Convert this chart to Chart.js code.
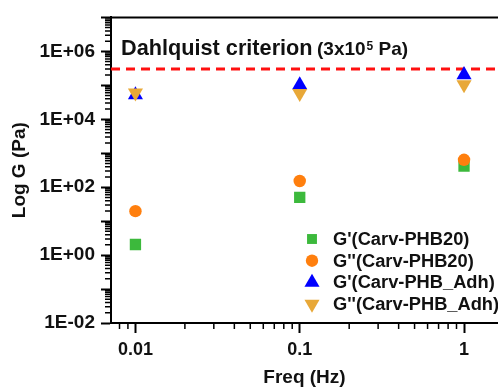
<!DOCTYPE html>
<html>
<head>
<meta charset="utf-8">
<script src="https://cdn.jsdelivr.net/npm/chart.js@4.4.1/dist/chart.umd.min.js"></script>
<style>
  html, body { margin: 0; padding: 0; background: #fff; }
  #wrap { width: 498px; height: 388px; }
</style>
</head>
<body>
<div id="wrap"><canvas id="myChart" width="498" height="388"></canvas></div>
<script>
// data
var freq = [0.01, 0.1, 1];
var gPrimePHB20 = [2.05, 50, 420];
var gDoublePHB20 = [19.7, 152, 640];
var gPrimeAdh = [52000, 102000, 204000];
var gDoubleAdh = [60000, 58000, 105000];
var seriesLabels = ["G'(Carv-PHB20)", "G''(Carv-PHB20)", "G'(Carv-PHB_Adh)", "G''(Carv-PHB_Adh)"];
var criterion = 3e5;

var xTicks = [0.01, 0.1, 1];
var xTickLabels = ['0.01', '0.1', '1'];
var yTicks = [1e-2, 1e-1, 1e0, 1e1, 1e2, 1e3, 1e4, 1e5, 1e6, 1e7];
var yTickLabels = ['1E-02', '', '1E+00', '', '1E+02', '', '1E+04', '', '1E+06', ''];
var xMin = 0.0071, xMax = 1.61, yMin = 1e-2, yMax = 1e7;

var FONT = "'Liberation Sans', Arial, sans-serif";
Chart.defaults.font.family = FONT;
Chart.defaults.color = '#111';

function pts(ys) {
  return freq.map(function(f, i) { return { x: f, y: ys[i] }; });
}

function marker(ctx, style, rot, r, x, y) {
  ctx.beginPath();
  if (style === 'rect') {
    var s = Math.SQRT1_2 * r;
    ctx.rect(x - s, y - s, 2 * s, 2 * s);
  } else if (style === 'circle') {
    ctx.arc(x, y, r, 0, Math.PI * 2);
  } else {
    var a = rot * Math.PI / 180;
    for (var k = 0; k < 3; k++) {
      var px = x + Math.sin(a) * r, py = y - Math.cos(a) * r;
      if (k === 0) ctx.moveTo(px, py); else ctx.lineTo(px, py);
      a += Math.PI * 2 / 3;
    }
    ctx.closePath();
  }
  ctx.fill();
}

var extras = {
  id: 'extras',
  afterDraw: function(chart) {
    var ctx = chart.ctx, a = chart.chartArea;
    var xs = chart.scales.x, ys = chart.scales.y;
    ctx.save();
    // top frame line
    ctx.strokeStyle = '#000';
    ctx.lineWidth = 2;
    ctx.beginPath();
    ctx.moveTo(a.left - 1, a.top);
    ctx.lineTo(a.right, a.top);
    ctx.stroke();

    // minor log ticks
    ctx.lineWidth = 1.5;
    ctx.beginPath();
    for (var e = -3; e <= 6; e++) {
      for (var m = 2; m <= 9; m++) {
        var v = m * Math.pow(10, e);
        if (v > xMin && v < xMax) {
          var px = xs.getPixelForValue(v);
          ctx.moveTo(px, a.bottom);
          ctx.lineTo(px, a.bottom + 6);
        }
        if (v > yMin && v < yMax) {
          var py = ys.getPixelForValue(v);
          ctx.moveTo(a.left, py);
          ctx.lineTo(a.left - 6, py);
        }
      }
    }
    ctx.stroke();

    // criterion label
    ctx.fillStyle = '#111';
    ctx.textBaseline = 'alphabetic';
    ctx.font = 'bold 21.7px ' + FONT;
    ctx.fillText('Dahlquist criterion', a.left + 10, 55);
    var tx = 317;
    ctx.font = 'bold 19px ' + FONT;
    ctx.fillText('(3x10', tx, 55);
    tx += ctx.measureText('(3x10').width + 1;
    ctx.font = 'bold 12px ' + FONT;
    ctx.fillText('5', tx, 50);
    tx += ctx.measureText('5').width;
    ctx.font = 'bold 19px ' + FONT;
    ctx.fillText(' Pa)', tx, 55);

    // legend
    var ds = chart.data.datasets;
    ctx.font = 'bold 18.3px ' + FONT;
    ctx.textBaseline = 'middle';
    for (var i = 0; i < seriesLabels.length; i++) {
      var d = ds[i];
      var ly = 239 + i * 21.7;
      ctx.fillStyle = d.backgroundColor;
      marker(ctx, d.pointStyle, d.pointRotation || 0, i === 0 ? 7 : d.pointRadius, 312, ly);
      ctx.fillStyle = '#111';
      ctx.fillText(seriesLabels[i], 333, ly + 1);
    }
    ctx.restore();
  }
};

var ctx = document.getElementById('myChart').getContext('2d');
var myChart = new Chart(ctx, {
  type: 'scatter',
  data: {
    datasets: [
      {
        label: seriesLabels[0],
        data: pts(gPrimePHB20),
        pointStyle: 'rect',
        pointRadius: 8,
        backgroundColor: '#3cb93c',
        borderWidth: 0,
        order: 4
      },
      {
        label: seriesLabels[1],
        data: pts(gDoublePHB20),
        pointStyle: 'circle',
        pointRadius: 6.2,
        backgroundColor: '#ff7f0e',
        borderWidth: 0,
        order: 3
      },
      {
        label: seriesLabels[2],
        data: pts(gPrimeAdh),
        pointStyle: 'triangle',
        pointRadius: 8.7,
        backgroundColor: '#0000ff',
        borderWidth: 0,
        order: 2
      },
      {
        label: seriesLabels[3],
        data: pts(gDoubleAdh),
        pointStyle: 'triangle',
        pointRotation: 180,
        pointRadius: 8.7,
        backgroundColor: '#e8a838',
        borderWidth: 0,
        order: 1
      },
      {
        label: 'Dahlquist criterion',
        type: 'line',
        data: [{ x: xMin, y: criterion }, { x: xMax, y: criterion }],
        borderColor: '#ff1010',
        borderWidth: 3,
        borderDash: [9, 6],
        pointRadius: 0,
        fill: false,
        order: 5
      }
    ]
  },
  options: {
    responsive: false,
    devicePixelRatio: 1,
    animation: false,
    events: [],
    layout: { autoPadding: false, padding: { top: 11.5, left: 0, right: 0, bottom: 0 } },
    plugins: {
      legend: { display: false },
      tooltip: { enabled: false }
    },
    scales: {
      x: {
        type: 'logarithmic',
        min: xMin,
        max: xMax,
        afterBuildTicks: function(scale) {
          scale.ticks = xTicks.map(function(v) { return { value: v }; });
        },
        afterFit: function(scale) { scale.height = 65; },
        ticks: {
          autoSkip: false,
          maxRotation: 0,
          padding: 6,
          color: '#111',
          font: { size: 18, weight: 'bold' },
          callback: function(value, index) { return xTickLabels[index]; }
        },
        grid: { drawOnChartArea: false, drawTicks: true, tickLength: 10, tickWidth: 2, tickColor: '#000' },
        border: { display: true, color: '#000', width: 2 },
        title: {
          display: true,
          text: 'Freq (Hz)',
          color: '#111',
          font: { size: 19, weight: 'bold', lineHeight: 1 },
          padding: { top: 0, bottom: 0.5 }
        }
      },
      y: {
        type: 'logarithmic',
        min: yMin,
        max: yMax,
        afterBuildTicks: function(scale) {
          scale.ticks = yTicks.map(function(v) { return { value: v }; });
        },
        afterFit: function(scale) { scale.width = 111; },
        ticks: {
          autoSkip: false,
          padding: 6,
          color: '#111',
          font: { size: 19, weight: 'bold' },
          callback: function(value, index) { return yTickLabels[index]; }
        },
        grid: { drawOnChartArea: false, drawTicks: true, tickLength: 10, tickWidth: 2, tickColor: '#000' },
        border: { display: true, color: '#000', width: 2 },
        title: {
          display: true,
          text: 'Log G (Pa)',
          color: '#111',
          font: { size: 19, weight: 'bold', lineHeight: 1 },
          padding: { top: 10.5, bottom: 0 }
        }
      }
    }
  },
  plugins: [extras]
});
</script>
</body>
</html>
